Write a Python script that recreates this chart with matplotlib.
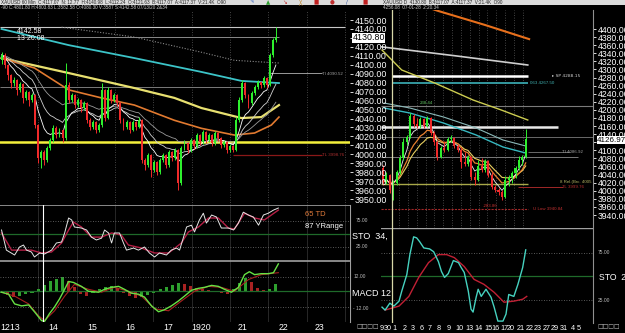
import matplotlib
matplotlib.use('Agg')
import matplotlib.pyplot as plt
import matplotlib.transforms as mtransforms
import numpy as np
import pandas as pd

plt.rcParams['font.family'] = ['Liberation Sans', 'DejaVu Sans']

W, H = 625, 333

# ---------------- 60 min chart (left) ----------------
left_open_first = 4105.3
left_close = [4110.9, 4099.7, 4088.6, 4079.6, 4083.0, 4071.8, 4078.5, 4062.9, 4069.6, 4060.6,
              4066.2, 4032.7, 3995.9, 4002.6, 3993.6, 4007.0, 4016.0, 4029.4, 4021.5, 4027.1,
              4018.2, 4077.4, 4060.6, 4066.2, 4055.1, 4060.6, 4051.7, 4057.3, 4038.3, 4030.5,
              4036.1, 4027.1, 4032.7, 4071.8, 4040.5, 4071.8, 4060.6, 4066.2, 4057.3, 4038.3,
              4030.5, 4036.1, 4027.1, 4036.1, 4030.5, 4038.3, 3993.6, 3988.0, 3999.2, 3982.4,
              3991.4, 3980.2, 3993.6, 3999.2, 3988.0, 4002.6, 3995.9, 4004.8, 3967.9, 4007.0,
              4012.6, 4004.8, 4016.0, 4009.3, 4021.5, 4013.7, 4024.9, 4016.0, 4021.5, 4012.6,
              4023.8, 4018.2, 4010.4, 4013.7, 4004.8, 4009.3, 4004.8, 4038.3, 4060.6, 4079.6,
              4066.2, 4057.3, 4068.5, 4075.2, 4080.7, 4077.4, 4085.2, 4077.4, 4110.9, 4127.7,
              4130.8]
left_high = [4114.3, 4113.1, 4100.9, 4089.7, 4086.3, 4084.1, 4080.7, 4079.6, 4071.8, 4070.7,
             4068.5, 4067.3, 4033.8, 4004.8, 4004.8, 4009.3, 4018.2, 4032.7, 4031.6, 4029.4,
             4028.2, 4102.0, 4080.7, 4068.5, 4067.3, 4062.9, 4061.8, 4059.5, 4058.4, 4040.5,
             4038.3, 4037.2, 4034.9, 4079.6, 4072.9, 4075.2, 4072.9, 4068.5, 4067.3, 4058.4,
             4040.5, 4038.3, 4037.2, 4038.3, 4037.2, 4041.7, 4039.4, 3995.9, 4001.4, 4000.3,
             3993.6, 3992.5, 3995.9, 4001.4, 4000.3, 4004.8, 4003.7, 4007.0, 4005.9, 4009.3,
             4016.0, 4013.7, 4018.2, 4017.1, 4023.8, 4022.7, 4027.1, 4026.0, 4023.8, 4022.7,
             4026.0, 4024.9, 4019.3, 4016.0, 4014.8, 4011.5, 4010.4, 4041.7, 4064.0, 4083.0,
             4080.7, 4067.3, 4070.7, 4077.4, 4083.0, 4081.9, 4087.4, 4086.3, 4113.1, 4129.9,
             4142.2]
left_low = [4100.9, 4096.4, 4083.0, 4074.0, 4076.3, 4066.2, 4069.6, 4057.3, 4060.6, 4053.9,
            4058.4, 4029.4, 3990.3, 3984.7, 3988.0, 3991.4, 4004.8, 4013.7, 4018.2, 4019.3,
            4013.7, 4016.0, 4057.3, 4058.4, 4051.7, 4052.8, 4047.2, 4049.5, 4034.9, 4027.1,
            4028.2, 4023.8, 4024.9, 4030.5, 4037.2, 4039.4, 4057.3, 4058.4, 4053.9, 4034.9,
            4027.1, 4028.2, 4023.8, 4026.0, 4027.1, 4029.4, 3990.3, 3982.4, 3985.8, 3974.6,
            3980.2, 3976.9, 3978.0, 3991.4, 3984.7, 3985.8, 3992.5, 3993.6, 3960.1, 3965.7,
            4004.8, 4001.4, 4002.6, 4005.9, 4007.0, 4010.4, 4011.5, 4012.6, 4013.7, 4009.3,
            4010.4, 4014.8, 4007.0, 4008.1, 4001.4, 4002.6, 4002.6, 4003.7, 4036.1, 4058.4,
            4062.9, 4051.7, 4055.1, 4066.2, 4072.9, 4074.0, 4075.2, 4074.0, 4076.3, 4108.7,
            4125.4]

# slow averages (candle index, price)
left_cyan_x = [0, 22, 43.6, 65.6, 78.7, 91]
left_cyan_y = [4140, 4122, 4107.5, 4092, 4082, 4079.6]
left_dot_x = [19.7, 43.6, 65.6, 76.4, 91]
left_dot_y = [4142, 4131, 4114, 4105, 4102]
left_yellow_x = [0, 22, 43.6, 56.7, 65.6, 78.7, 85.2, 91]
left_yellow_y = [4107.5, 4090.8, 4074, 4063, 4051.7, 4040.5, 4041.6, 4055]
left_orange_x = [0, 10.8, 22, 32.8, 43.6, 56.7, 65.6, 76.4, 83, 88.5, 91]
left_orange_y = [4107.5, 4096.4, 4072, 4063, 4055, 4038, 4029, 4021.5, 4023.8, 4032.7, 4041.6]

left_days = ['1213', '14', '15', '16', '17', '1920', '21', '22', '23']
left_day_pos = [2.8, 17, 29.7, 42.1, 54.6, 65.4, 79.2, 92.6, 104.4]
left_day_lines = [12.1, 24.7, 37.2, 49.8, 62.4, 74.9, 87.5, 100.1, 112.6]

# stochastic (left)
sto_w_x = [0, 1.6, 4.3, 5.9, 7.2, 8.2, 9.8, 10.8, 12.5, 14.1, 16.4, 18, 19.7, 20.7, 22, 23, 23.9,
           26.2, 27.9, 29.5, 31.1, 32.8, 33.8, 35.1, 36.1, 37, 38.7, 40, 41, 43.3, 44.9, 46.9, 48.5,
           50.2, 51.8, 54.1, 55.7, 57.4, 58.4, 59.7, 60.7, 62.3, 63.3, 64.9, 66.2, 67.2, 68.9, 70.5,
           72.1, 74.4, 76.1, 77.7, 79.3, 81, 82.6, 84.3, 85.9, 87.5, 89.2, 90.8]
sto_w_y = [57.7, 19, 9.6, 25, 28.8, 19, 15.4, 5.8, 13.5, 11.5, 19, 32.7, 34.6, 52, 80.8, 77, 63.5,
           61.5, 57.7, 44, 38.5, 42, 57.7, 52, 32.7, 52, 52, 32.7, 19, 23, 19, 25, 13.5,
           5.8, 13.5, 9.6, 19, 23, 19, 44, 63.5, 67, 54, 77, 90, 71, 86.5, 82.7,
           61.5, 61.5, 57.7, 71, 92, 86.5, 82.7, 67, 86.5, 90, 96, 100]
sto_r_x = [0, 3.3, 6.6, 9.8, 13.1, 16.4, 19.7, 22, 23.6, 26.2, 29.5, 32.8, 36.1, 39.3, 41.6, 45.9,
           50.2, 54.8, 59, 61.3, 64.6, 67.9, 71.1, 74.4, 76.4, 79.7, 83, 86.2, 90.8]
sto_r_y = [52, 19, 19, 19, 13.5, 15.4, 32.7, 57.7, 73, 63.5, 44, 44, 52, 48, 28.8, 23,
           13.5, 13.5, 32.7, 54, 63.5, 80.8, 80.8, 61.5, 59.6, 90, 80.8, 77, 96]

# MACD (left)
macd_x = [0, 2.3, 4.3, 6.6, 8.9, 10.8, 13.1, 14.1, 15.7, 17.4, 19, 20.7, 22, 23.6, 26.2, 28.5,
          31.8, 33.8, 36.1, 38.4, 40.3, 42.6, 44.9, 46.9, 49.2, 51.5, 53.4, 55.7, 58, 60, 62.3,
          64.6, 66.6, 68.9, 71.1, 73.1, 75.4, 77.7, 79.7, 81.3, 83, 85.2, 87.5, 89.2, 90.8]
macd_y = [-1, -3, -13, -15, -14, -21, -30, -31, -23, -16, -8, 2, 10, 9, 5, 0,
          -1, 2, 4, 5, 2, -2, -3, -6, -15, -21, -19, -15, -10, -5, 1,
          3, 4, 6, 5, 2, -1, 4, 17, 20, 17, 18, 18, 19, 28]
signal_x = [0, 4.3, 8.9, 12.1, 14.1, 17.4, 20.7, 23.9, 28.5, 32.8, 37, 41.6, 45.9, 50.2, 54.8,
            59, 63.3, 67.9, 72.1, 76.4, 81, 85.2, 90.8]
signal_y = [-1, -5, -13, -25, -30, -20, -5, 7, 2, -1, 4, 0, -5, -18, -20,
            -10, 0, 5, 4, 0, 12, 17, 19]
hist_vals = [-2, -4, -6, -5, -3, -2, 2, 6, 10, 13, 15, 11, 4, -3, -5, -2, 2, 4, 5, 3, -2, -5, -7,
             -6, -4, -2, 2, 4, 6, 8, 7, 5, 3, 2, 1, -1, -2, -3, 2, 8, 14, 9, 3, 1, 2, 7]

# ---------------- daily chart (right) ----------------
right_open_first = 4056.3
right_close = [4021.6, 4038.9, 4001.8, 4019.2, 4046.4, 4081.0, 4120.6, 4132.9, 4184.8, 4165.1,
               4160.1, 4177.4, 4160.1, 4179.9, 4142.8, 4120.6, 4083.5, 4105.7, 4100.8, 4128.0,
               4130.4, 4110.7, 4100.8, 4071.1, 4066.1, 4083.5, 4034.0, 4026.6, 4061.2, 4051.3,
               4073.6, 4038.9, 4009.3, 4001.8, 3996.9, 3984.5, 4026.6, 4031.5, 4043.9, 4056.3,
               4076.0, 4083.5, 4127.0]
right_high = [4063.7, 4046.4, 4041.4, 4026.6, 4051.3, 4088.4, 4130.4, 4137.9, 4192.3, 4189.8,
              4179.9, 4182.4, 4179.9, 4184.8, 4182.4, 4147.7, 4125.5, 4110.7, 4123.0, 4132.9,
              4137.9, 4132.9, 4115.6, 4108.2, 4095.8, 4088.4, 4085.9, 4046.4, 4076.0, 4081.0,
              4078.5, 4076.0, 4046.4, 4014.2, 4006.8, 4001.8, 4036.5, 4038.9, 4048.8, 4061.2,
              4085.9, 4088.4, 4152.7]
right_low = [4014.2, 4016.7, 3994.4, 3977.1, 4014.2, 4041.4, 4076.0, 4113.1, 4130.4, 4157.6,
             4155.2, 4155.2, 4155.2, 4157.6, 4137.9, 4113.1, 4076.0, 4081.0, 4095.8, 4098.3,
             4120.6, 4105.7, 4095.8, 4056.3, 4061.2, 4061.2, 4026.6, 4014.2, 4024.1, 4046.4,
             4046.4, 4034.0, 4004.3, 3996.9, 3989.5, 3977.1, 3982.0, 4011.7, 4019.2, 4031.5,
             4051.3, 4063.7, 4081.0]

right_orange_x = [10, 16.3, 30, 43]
right_orange_y = [4462, 4444.5, 4410, 4375]
right_grey_x = [-0.6, 21, 42.6]
right_grey_y = [4356, 4334, 4311]
right_yellow_x = [-0.3, 5.5, 15.2, 26.5, 34.7, 42.6]
right_yellow_y = [4348, 4298.6, 4266.5, 4224.4, 4200, 4175]
right_cyan_x = [0.3, 7.9, 17.8, 27.4, 35.3, 42]
right_cyan_y = [4204.6, 4192.3, 4167.5, 4137.9, 4108.2, 4093.3]
right_teal2_y = [4217, 4204.6, 4182.4, 4155.2, 4125.5, 4110.7]

right_days = ['9', '30', '1', '2', '3', '6', '7', '8', '9', '10', '13', '14', '15', '16', '17',
              '20', '21', '22', '23', '27', '29', '31', '4', '5']
right_day_pos = [-0.3, 1.5, 3.5, 6.4, 8.7, 11.4, 13.7, 16.3, 19.2, 22.4, 25.4, 28, 30.9, 33.2,
                 35.6, 37.6, 40.6, 43.1, 45.5, 48.1, 50.4, 53.1, 56, 57.7]

rsto_t_x = [-0.3, 0.6, 2, 3.2, 4.7, 5.5, 7, 7.9, 9, 9.9, 10.8, 12, 13.7, 14.9, 16.3, 17.2, 18.1,
            19.2, 20.7, 22.2, 23, 23.9, 25.1, 25.9, 26.5, 27.4, 28, 28.9, 30.3, 31.8, 32.7, 33.8,
            35.3, 36.2, 37, 38.5, 39.7, 41.1, 42]
rsto_t_y = [17.7, 14.6, 21.9, 18.8, 24, 34.4, 52, 73, 91.7, 90.6, 86.5, 80, 79, 76, 65.6, 55.2, 49,
            53, 66.7, 64.6, 59.4, 54.2, 34.4, 15.6, 12.5, 28, 36.5, 29, 36.5, 28, 17.7, 3,
            3, 10.4, 31, 29, 41.7, 59.4, 78]
rsto_r_x = [0.6, 4.7, 7.6, 10.5, 13.4, 16.3, 18.7, 21, 23.9, 26.8, 29.7, 32.7, 35.6, 38.5, 41.1, 42.3]
rsto_r_y = [14.6, 18.8, 29, 49, 64.6, 73, 73, 69.8, 60.4, 46.9, 41.7, 33.3, 22.9, 24, 26, 29]

GREEN = '#2ef02e'
RED = '#f02a2a'


def rect(x0, y0, x1, y1):
    return [x0 / W, 1 - y1 / H, (x1 - x0) / W, (y1 - y0) / H]


def blank(ax):
    ax.set_facecolor('black')
    for s in ax.spines.values():
        s.set_visible(False)
    ax.tick_params(left=False, bottom=False, labelleft=False, labelbottom=False)


def candles(ax, first_open, close, high, low, width):
    c = np.array(close)
    o = np.concatenate([[first_open], c[:-1]])
    x = np.arange(len(c))
    col = np.where(c >= o, GREEN, RED)
    ax.vlines(x, low, high, colors=col, lw=0.7, zorder=4)
    ax.bar(x, np.maximum(np.abs(c - o), 0.4), bottom=np.minimum(o, c), width=width,
           color=col, linewidth=0, zorder=5)


def ftext(x, y, s, **kw):
    fig.text(x / W, 1 - y / H, s, va='center', **kw)


fig = plt.figure(figsize=(6.25, 3.33), dpi=100, facecolor='black')

# header strip
axh = fig.add_axes(rect(0, 0, 625, 4.6))
axh.set_facecolor('#dcdcdc')
axh.set_xticks([]); axh.set_yticks([])
for s in axh.spines.values():
    s.set_visible(False)

# ---- right chart axes (drawn under the left price labels) ----
axR = fig.add_axes(rect(381, 10, 593, 228), zorder=1)
axRs = fig.add_axes(rect(381, 228, 593, 323), zorder=1)
for a in (axR, axRs):
    blank(a)
    a.set_xlim(-0.6, 61.8)

# ---- left chart axes ----
axL = fig.add_axes(rect(0, 10, 350, 205), zorder=3)
axS = fig.add_axes(rect(0, 205, 350, 260), zorder=3)
axM = fig.add_axes(rect(0, 260, 350, 322), zorder=3)
for a in (axL, axS, axM):
    blank(a)
    a.set_xlim(-0.5, 114.3)

# ---------- left main ----------
axL.set_ylim(3943.4, 4161.2)
for d in left_day_lines:
    axL.axvline(d, color='#5a5a5a', lw=0.6, ls=(0, (1, 2)), zorder=1)
    axS.axvline(d, color='#2e2e2e', lw=0.6, zorder=0)
    axM.axvline(d, color='#2e2e2e', lw=0.6, zorder=0)

axL.hlines(4142.58, -0.5, 112.6, color='#c8c8c8', lw=0.8, zorder=2)
axL.hlines(4130.80, -0.5, 91, color='#8a8a8a', lw=0.7, zorder=2)
axL.hlines(4075.2, -0.5, 80, color='#7a7a7a', lw=0.7, zorder=2)
axL.hlines(4090.52, 87.5, 105, color='#9a9a9a', lw=0.7, zorder=2)
axL.hlines(3998.76, 76, 105, color='#8a1818', lw=0.9, zorder=2)
axL.axhline(4013.7, color='#f4f03c', lw=1.8, zorder=3)

axL.plot(left_cyan_x, left_cyan_y, color='#3cc4c8', lw=1.3, zorder=3)
axL.plot(left_dot_x, left_dot_y, color='#8a8a8a', lw=0.8, ls=(0, (1, 1.5)), zorder=3)
axL.plot(left_yellow_x, left_yellow_y, color='#e8e070', lw=1.6, zorder=3)
axL.plot(left_orange_x, left_orange_y, color='#e27a30', lw=1.2, zorder=3)
lc = pd.Series(left_close)
for span, col in ((30, '#9a9a9a'), (16, '#d0d0d0'), (8, '#ffffff')):
    axL.plot(np.arange(len(lc)), lc.ewm(span=span, adjust=False).mean(), color=col, lw=0.6, zorder=3)

candles(axL, left_open_first, left_close, left_high, left_low, 0.62)

axL.yaxis.tick_right()
ticks = np.arange(3950, 4151, 10)
axL.set_yticks(ticks)
axL.set_yticklabels(['' if t == 4130 else f'{t:.2f}' for t in ticks])
axL.tick_params(axis='y', right=True, labelright=True, colors='white', labelsize=6.4,
                length=2.5, width=0.6, pad=1)
ftext(352.5, 38, '4130.80', color='black', fontsize=6.4,
      bbox=dict(facecolor='white', edgecolor='none', pad=0.3))
ftext(17, 31.5, '4142.58', color='white', fontsize=5)
ftext(17, 38.5, '13 20:08', color='white', fontsize=5)
ftext(322, 74, 'TI 4090.52', color='#a0a0a0', fontsize=3.2)
ftext(322, 155, 'TL 3998.76', color='#b03030', fontsize=3.2)

# ---------- left stochastic ----------
axS.set_ylim(0, 105.8)
axS.axhline(75, color='#777777', lw=0.6, ls=(0, (1, 2)))
axS.axhline(25, color='#777777', lw=0.6, ls=(0, (1, 2)))
axS.axhline(50, color='#1f6a2a', lw=0.9)
axS.axhline(105.3, color='#a0a0a0', lw=1.2)
axS.plot(sto_r_x, sto_r_y, color='#b41e44', lw=1.0)
axS.plot(sto_w_x, sto_w_y, color='#e6e6e6', lw=0.7)
axS.axvline(13.6, color='white', lw=0.8)

# ---------- left MACD ----------
axM.set_ylim(-31.5, 32)
axM.axhline(31.3, color='#a0a0a0', lw=1.2)
axM.axhline(15, color='#777777', lw=0.6, ls=(0, (1, 2)))
axM.axhline(-16, color='#777777', lw=0.6, ls=(0, (1, 2)))
axM.axhline(0, color='#1f6a2a', lw=0.9)
hv = np.array(hist_vals)
hx = np.arange(len(hv)) * 2
hcol = np.where(np.diff(np.concatenate([[hv[0]], hv])) >= 0, '#2ea02e', '#a82222')
axM.bar(hx, hv, width=1.0, color=hcol, linewidth=0)
axM.plot(signal_x, signal_y, color='#a82020', lw=0.8)
axM.plot(macd_x, macd_y, color='#66e244', lw=1.0)
axM.axvline(13.6, color='white', lw=0.8)
tr = mtransforms.blended_transform_factory(axM.transData, fig.transFigure)
for lab, p in zip(left_days, left_day_pos):
    axM.text(p, 1 - 328 / H, lab, transform=tr, color='white', fontsize=6.3,
             ha='center', va='center', clip_on=False)

# left chart side texts
fig.add_artist(plt.Line2D([350 / W, 350 / W], [1 - 322 / H, 1 - 205 / H], color='#a0a0a0', lw=0.8))
ftext(305, 215, '65 TD', color='#e07a3a', fontsize=5.5)
ftext(305, 226, '87 YRange', color='white', fontsize=5.5)
ftext(356, 221, '75.00', color='#bbbbbb', fontsize=3.5)
ftext(352, 236, 'STO  34,', color='white', fontsize=6.5)
ftext(356, 247, '25.00', color='#bbbbbb', fontsize=3.5)
ftext(354, 277, '12.00', color='#bbbbbb', fontsize=3.5)
ftext(352, 293, 'MACD 12', color='white', fontsize=6.5)
ftext(353, 308, '- 12.00', color='#bbbbbb', fontsize=3.5)
ftext(356, 327, '\u25a1\u25a1\u25a1\u25a1', color='#bbbbbb', fontsize=4.3, family='DejaVu Sans')

# ---------- right main ----------
axR.set_ylim(3907.9, 4447)
for g in np.arange(4.7, 41.2, 2.6):
    axR.axvline(g, color='#5a5a5a', lw=0.6, ls=(0, (1, 2)), zorder=1)
axR.hlines(4209.6, -0.6, 61.8, color='#7a7a7a', lw=0.8, zorder=2)
axR.hlines(4133.0, -0.6, 61.8, color='#6a6a6a', lw=0.7, zorder=2)
axR.hlines(4083.5, -0.6, 57.4, color='#7a7a7a', lw=0.7, zorder=2)
axR.hlines(4095.8, 42.6, 55, color='#7a7a7a', lw=0.6, zorder=2)
axR.hlines(4285, 2.6, 42.6, color='white', lw=1.8, zorder=2)
axR.hlines(4267.5, 2.6, 42.6, color='#40c0c8', lw=1.1, zorder=2)
axR.hlines(4157.6, -0.6, 51.6, color='#e8e8e8', lw=1.8, zorder=2)
axR.hlines(4016.7, -0.6, 42.6, color='#a8a848', lw=1.0, zorder=2)
axR.hlines(4009.0, 39.7, 53, color='#a02828', lw=0.7, zorder=2)
axR.hlines(3955, -0.6, 42.6, color='#a02828', lw=0.8, ls=(0, (2, 1)), zorder=2)

axR.plot(right_orange_x, right_orange_y, color='#e8701c', lw=1.5, zorder=3)
axR.plot(right_grey_x, right_grey_y, color='#cfcfcf', lw=1.2, zorder=3)
axR.plot(right_yellow_x, right_yellow_y, color='#cccc50', lw=1.0, zorder=3)
axR.plot(right_cyan_x, right_teal2_y, color='#8ab8b8', lw=0.8, zorder=3)
axR.plot(right_cyan_x, right_cyan_y, color='#36b8c0', lw=1.0, zorder=3)
rc = pd.Series(right_close)
for span, col, lw in ((12, '#e8d060', 0.8), (8, '#e88030', 0.9), (4, '#f0f0f0', 0.6)):
    axR.plot(np.arange(len(rc)), rc.ewm(span=span, adjust=False).mean(), color=col, lw=lw, zorder=3)
candles(axR, right_open_first, right_close, right_high, right_low, 0.62)
axR.axvline(2.6, color='#d8d8a8', lw=0.9, zorder=6)

axR.yaxis.tick_right()
rt = np.arange(3940, 4401, 20)
axR.set_yticks(rt)
axR.set_yticklabels(['' if t == 4120 else f'{t:.2f}' for t in rt])
axR.tick_params(axis='y', right=True, labelright=True, colors='white', labelsize=6.2,
                length=2.5, width=0.6, pad=1)
ftext(597, 140, '4126.97', color='black', fontsize=5.8,
      bbox=dict(facecolor='white', edgecolor='none', pad=0.1))
ftext(420, 103, '238.44', color='#60c060', fontsize=3.2)
ftext(552, 76, '\u25b8 SP 4288.15', color='#d0d0d0', fontsize=3.2, family='DejaVu Sans')
ftext(530, 82.5, '063 4267.50', color='#40b0b0', fontsize=3.2)
ftext(562, 152, 'TI 4086.92', color='#a0a0a0', fontsize=3.2)
ftext(560, 182, '8 Rel.(Brc. 4005', color='#b0b060', fontsize=3.2)
ftext(562, 187.5, '7L 3999.76', color='#c03030', fontsize=3.2)
ftext(483, 206, '-283.86', color='#c03030', fontsize=3.2)
ftext(533, 209.5, 'U Low 3940.84', color='#c03030', fontsize=3.2)

# ---------- right stochastic ----------
axRs.set_ylim(1, 101)
axRs.axhline(100.6, color='#a0a0a0', lw=1.0)
axRs.axhline(75, color='#777777', lw=0.6, ls=(0, (1, 2)))
axRs.axhline(25, color='#777777', lw=0.6, ls=(0, (1, 2)))
axRs.axhline(50, color='#1f6a2a', lw=0.9)
axRs.plot(rsto_r_x, rsto_r_y, color='#c02034', lw=1.0)
axRs.plot(rsto_t_x, rsto_t_y, color='#46d2c0', lw=1.0)
axRs.axvline(2.6, color='#d8d8a8', lw=0.9)
tr2 = mtransforms.blended_transform_factory(axRs.transData, fig.transFigure)
for lab, p in zip(right_days, right_day_pos):
    axRs.text(p, 1 - 328 / H, lab, transform=tr2, color='white', fontsize=5.2,
              ha='center', va='center', clip_on=False)

fig.add_artist(plt.Line2D([593 / W, 593 / W], [1 - 323 / H, 1 - 10 / H], color='#909090', lw=0.8))
ftext(598, 253, '75.00', color='#bbbbbb', fontsize=3.5)
ftext(599, 277, 'STO  24', color='white', fontsize=6.2)
ftext(598, 301, '25.00', color='#bbbbbb', fontsize=3.5)
ftext(597, 327, '\u25a1\u25a1\u25a1\u25a1', color='#bbbbbb', fontsize=4.3, family='DejaVu Sans')

# header texts
ftext(1, 2.3, 'XAUUSD 60 Min  C:4117.07  N: 12.77  H:4140.98  L:4112.24  O:4121.63  '
      'B:4117.07  A:4117.37  V:21.4K  O90', color='#202020', fontsize=3.3)
ftext(383, 2.3, 'XAUUSD D  4130.80  B:4117.07  A:4117.37  V:21.4K  O90', color='#202020', fontsize=3.3)
ftext(1, 7.5, '-90 C:4801.80 H:4803.83 L:3582.58 O:4080.30 V:3587 S:4142.58 07/13/20 2&34',
      color='#d0d0d0', fontsize=3.3)
ftext(383, 7.5, '4256.08  07-01-28  2:20.34', color='#d0d0d0', fontsize=3.3)
icons = [('\u270e', '#3060c0'), ('\u25b2', '#30a030'), ('\u2198', '#c03030'), ('\u2573', '#c08020'),
         ('\u25a0', '#c02020'), ('\u25cf', '#c03030'), ('\u2215', '#3050a0'), ('\u25a0', '#c02020')]
for k, (g, c) in enumerate(icons):
    ftext(250 + k * 16, 2.3, g, color=c, fontsize=4, family='DejaVu Sans')

fig.savefig('out.png', dpi=100, facecolor='black')
